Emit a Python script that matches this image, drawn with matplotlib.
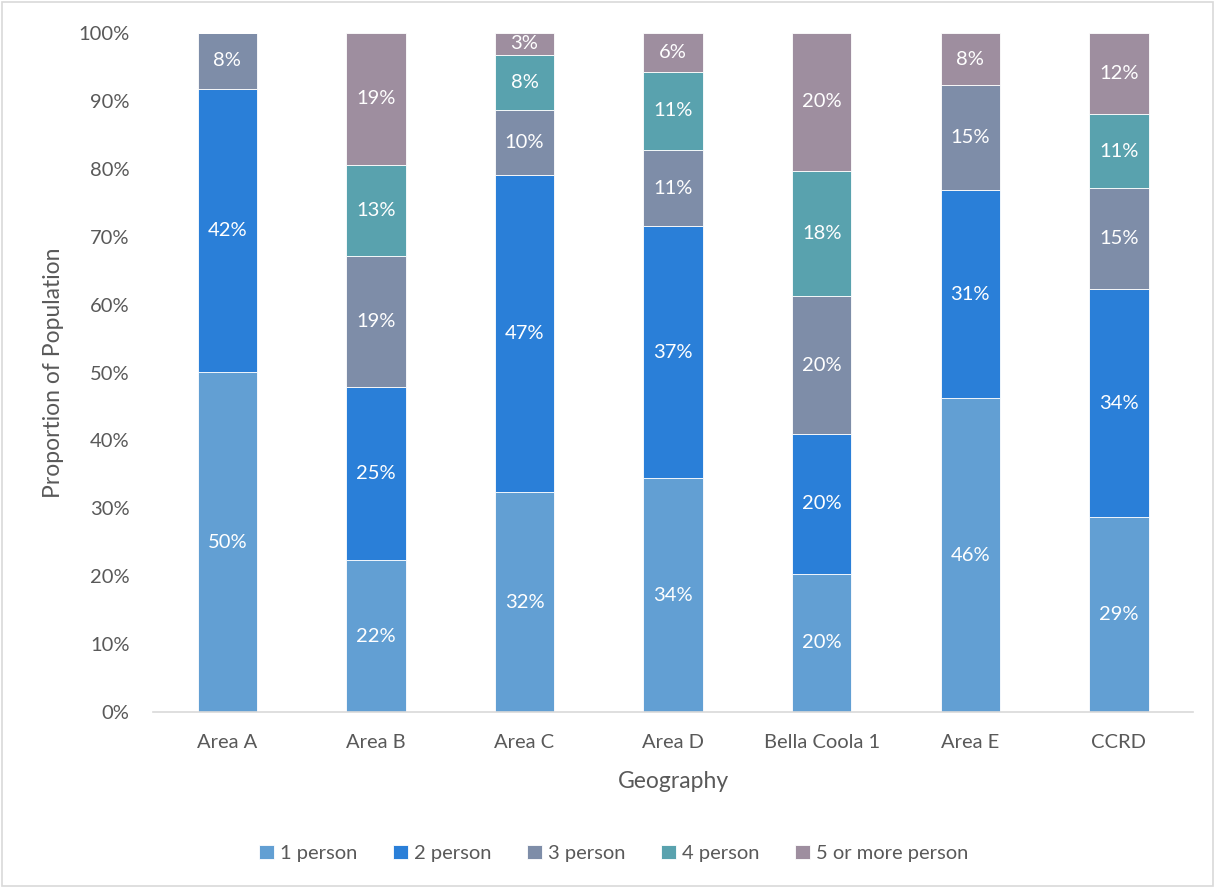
import numpy as np
import matplotlib.pyplot as plt
from matplotlib.patches import Rectangle

plt.rcParams['font.family'] = ['Lato', 'DejaVu Sans']

# Data: share of households by size (percent)
geographies = ['Area A', 'Area B', 'Area C', 'Area D', 'Bella Coola 1', 'Area E', 'CCRD']
series_names = ['1 person', '2 person', '3 person', '4 person', '5 or more person']
one_person = [50.1, 22.4, 32.4, 34.4, 20.4, 46.2, 28.7]
two_person = [41.7, 25.4, 46.7, 37.1, 20.5, 30.7, 33.6]
three_person = [8.2, 19.4, 9.6, 11.3, 20.4, 15.4, 14.8]
four_person = [0.0, 13.4, 8.1, 11.4, 18.4, 0.0, 10.9]
five_plus = [0.0, 19.4, 3.2, 5.8, 20.3, 7.7, 12.0]

colors = ['#629FD3', '#2A7FD8', '#7E8DA8', '#59A2AE', '#9E8E9F']
text_color = '#595959'

series = [one_person, two_person, three_person, four_person, five_plus]

fig = plt.figure(figsize=(12.15, 8.88), dpi=100)
ax = fig.add_axes([0.126, 0.198, 0.856, 0.765])

x = np.arange(len(geographies))
bottom = np.zeros(len(geographies))
for name, vals, col in zip(series_names, series, colors):
    vals = np.array(vals)
    ax.bar(x, vals, 0.4, bottom=bottom, color=col, label=name,
           edgecolor='white', linewidth=0.6)
    for xi, b, v in zip(x, bottom, vals):
        if v > 0:
            ax.text(xi, b + v / 2, f'{v:.0f}%', ha='center', va='center',
                    color='white', fontsize=14.5)
    bottom += vals

ax.set_xlim(-0.5, len(geographies) - 0.5)
ax.set_ylim(0, 100)
ax.set_yticks(np.arange(0, 101, 10))
ax.set_yticklabels([f'{t}%' for t in range(0, 101, 10)])
ax.set_xticks(x)
ax.set_xticklabels(geographies)
ax.tick_params(axis='both', length=0, labelsize=14.5, colors=text_color)
ax.tick_params(axis='y', pad=17)
ax.tick_params(axis='x', pad=16)

for s in ['top', 'right', 'left']:
    ax.spines[s].set_visible(False)
ax.spines['bottom'].set_color('#D9D9D9')
ax.spines['bottom'].set_linewidth(1.2)

ax.set_xlabel('Geography', fontsize=16.5, color=text_color, labelpad=14)
ax.set_ylabel('Proportion of Population', fontsize=16.5, color=text_color, labelpad=10)

fig.legend(loc='center', bbox_to_anchor=(0.505, 0.039), ncol=5, frameon=False,
           fontsize=14.5, labelcolor=text_color, handlelength=0.75, handleheight=0.75,
           handletextpad=0.3, columnspacing=1.75)

fig.patches.append(Rectangle((0.002, 0.002), 0.996, 0.996, transform=fig.transFigure,
                             fill=False, edgecolor='#D9D9D9', linewidth=1.2))

fig.savefig('out.png', dpi=100, facecolor='white')
